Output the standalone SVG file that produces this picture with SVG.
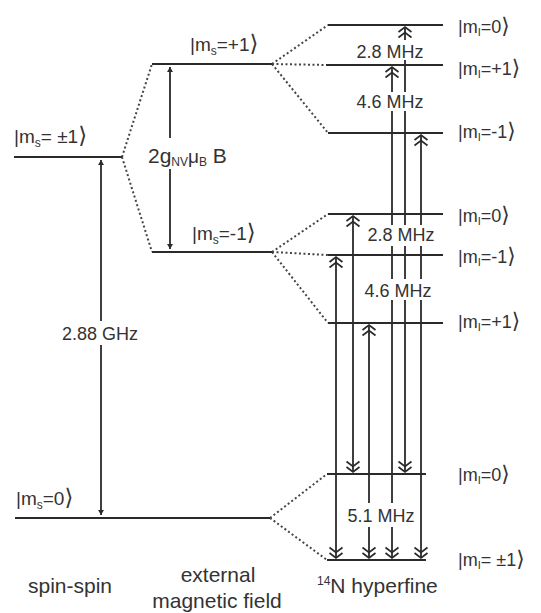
<svg xmlns="http://www.w3.org/2000/svg" width="541" height="613" viewBox="0 0 541 613">
<style>
.lvl{stroke:#2a2a2a;stroke-width:2.2;fill:none;stroke-linecap:butt}
.dot{stroke:#444;stroke-width:2;stroke-dasharray:2 2.5;fill:none}
.tr{stroke:#2a2a2a;stroke-width:1.8;fill:none;marker-start:url(#dch);marker-end:url(#dch)}
.sp{stroke:#2a2a2a;stroke-width:1.8;fill:none;marker-start:url(#sm);marker-end:url(#sm)}
.bg{fill:#fff}
text{font-family:"Liberation Sans",Arial,"DejaVu Sans",sans-serif;fill:#333}
.lab{font-size:19px}
.rl{font-size:18px}
.fq{font-size:18px;text-anchor:middle}
.cap{font-size:21px;text-anchor:middle}
.br{font-family:"DejaVu Sans",sans-serif;font-size:1.2em}
</style>
<defs>
<marker id="dch" markerUnits="userSpaceOnUse" viewBox="-13 -8 15 16" refX="0" refY="0" markerWidth="15" markerHeight="16" orient="auto-start-reverse">
<path d="M-5,-6.5 L0,0 L-5,6.5 M-10.5,-6.5 L-5.5,0 L-10.5,6.5" fill="none" stroke="#2a2a2a" stroke-width="1.7"/>
</marker>
<marker id="sm" markerUnits="userSpaceOnUse" viewBox="-6 -4 7 8" refX="0" refY="0" markerWidth="7" markerHeight="8" orient="auto-start-reverse">
<path d="M0,0 L-5,-3 L-5,3 Z" fill="#2a2a2a"/>
</marker>
</defs>

<g id="connectors">
<path class="dot" d="M122,157 L152,64 M122,157 L152,252"/>
<path class="dot" d="M272,64 L328,25 M272,64 L328,65 M272,64 L328,133"/>
<path class="dot" d="M272,252 L328,214 M272,252 L328,255 M272,252 L328,323"/>
<path class="dot" d="M270,518 L327,474 M270,518 L327,560"/>
<line class="sp" x1="101" y1="160" x2="101" y2="515"/>
<line class="sp" x1="170" y1="67" x2="170" y2="249"/>
<line class="tr" x1="336" y1="257" x2="336" y2="558"/>
<line class="tr" x1="353" y1="216" x2="353" y2="472"/>
<line class="tr" x1="369" y1="325" x2="369" y2="558"/>
<line class="tr" x1="392" y1="67" x2="392" y2="558"/>
<line class="tr" x1="405" y1="27" x2="405" y2="472"/>
<line class="tr" x1="421" y1="135" x2="421" y2="558"/>
</g>

<g id="spin-spin">
<line class="lvl" x1="14" y1="157" x2="122" y2="157"/>
<line class="lvl" x1="15" y1="518" x2="270" y2="518"/>
<text class="lab" x="14" y="143">|m<tspan font-size="12" dy="4">s</tspan><tspan dy="-4">= ±1</tspan><tspan class="br">⟩</tspan></text>
<text class="lab" x="16" y="505">|m<tspan font-size="12" dy="4">s</tspan><tspan dy="-4">=0</tspan><tspan class="br">⟩</tspan></text>
<rect class="bg" x="56" y="321" width="90" height="24"/>
<text class="fq" x="100" y="340">2.88 GHz</text>
<text class="cap" x="70" y="593">spin-spin</text>
</g>

<g id="zeeman">
<line class="lvl" x1="152" y1="64" x2="272" y2="64"/>
<line class="lvl" x1="152" y1="252" x2="272" y2="252"/>
<text class="lab" x="190" y="51">|m<tspan font-size="12" dy="4">s</tspan><tspan dy="-4">=+1</tspan><tspan class="br">⟩</tspan></text>
<text class="lab" x="192" y="240">|m<tspan font-size="12" dy="4">s</tspan><tspan dy="-4">=-1</tspan><tspan class="br">⟩</tspan></text>
<rect class="bg" x="145" y="138" width="80" height="31"/>
<text x="148" y="163" font-size="21">2g<tspan font-size="12" dy="3">NV</tspan><tspan font-size="19" dy="-3">μ</tspan><tspan font-size="12" dy="3">B</tspan><tspan font-size="21" dy="-3"> B</tspan></text>
<text class="cap" x="218" y="582">external</text>
<text class="cap" x="217" y="608">magnetic field</text>
</g>

<g id="hyperfine-upper">
<line class="lvl" x1="328" y1="25" x2="443" y2="25"/>
<line class="lvl" x1="326" y1="65" x2="443" y2="65"/>
<line class="lvl" x1="328" y1="133" x2="443" y2="133"/>
<text class="rl" x="458" y="33">|m<tspan font-size="11" dy="3">I</tspan><tspan dy="-3">=0</tspan><tspan class="br">⟩</tspan></text>
<text class="rl" x="458" y="75">|m<tspan font-size="11" dy="3">I</tspan><tspan dy="-3">=+1</tspan><tspan class="br">⟩</tspan></text>
<text class="rl" x="458" y="138">|m<tspan font-size="11" dy="3">I</tspan><tspan dy="-3">=-1</tspan><tspan class="br">⟩</tspan></text>
<rect class="bg" x="352" y="40" width="76" height="20"/>
<text class="fq" x="390" y="58">2.8 MHz</text>
<rect class="bg" x="352" y="92" width="76" height="19"/>
<text class="fq" x="390" y="108">4.6 MHz</text>
</g>

<g id="hyperfine-lower">
<line class="lvl" x1="328" y1="214" x2="443" y2="214"/>
<line class="lvl" x1="328" y1="255" x2="443" y2="255"/>
<line class="lvl" x1="328" y1="323" x2="443" y2="323"/>
<text class="rl" x="458" y="222">|m<tspan font-size="11" dy="3">I</tspan><tspan dy="-3">=0</tspan><tspan class="br">⟩</tspan></text>
<text class="rl" x="458" y="263">|m<tspan font-size="11" dy="3">I</tspan><tspan dy="-3">=-1</tspan><tspan class="br">⟩</tspan></text>
<text class="rl" x="458" y="328">|m<tspan font-size="11" dy="3">I</tspan><tspan dy="-3">=+1</tspan><tspan class="br">⟩</tspan></text>
<rect class="bg" x="362" y="225" width="78" height="21"/>
<text class="fq" x="401" y="241">2.8 MHz</text>
<rect class="bg" x="361" y="279" width="74" height="21"/>
<text class="fq" x="398" y="297">4.6 MHz</text>
</g>

<g id="hyperfine-ground">
<line class="lvl" x1="327" y1="474" x2="426" y2="474"/>
<line class="lvl" x1="327" y1="560" x2="426" y2="560"/>
<text class="rl" x="458" y="481">|m<tspan font-size="11" dy="3">I</tspan><tspan dy="-3">=0</tspan><tspan class="br">⟩</tspan></text>
<text class="rl" x="458" y="566">|m<tspan font-size="11" dy="3">I</tspan><tspan dy="-3">= ±1</tspan><tspan class="br">⟩</tspan></text>
<rect class="bg" x="343" y="503" width="75" height="24"/>
<text class="fq" x="381" y="522">5.1 MHz</text>
<text x="317" y="593" font-size="21"><tspan font-size="12" dy="-8">14</tspan><tspan dy="8">N hyperfine</tspan></text>
</g>
</svg>
